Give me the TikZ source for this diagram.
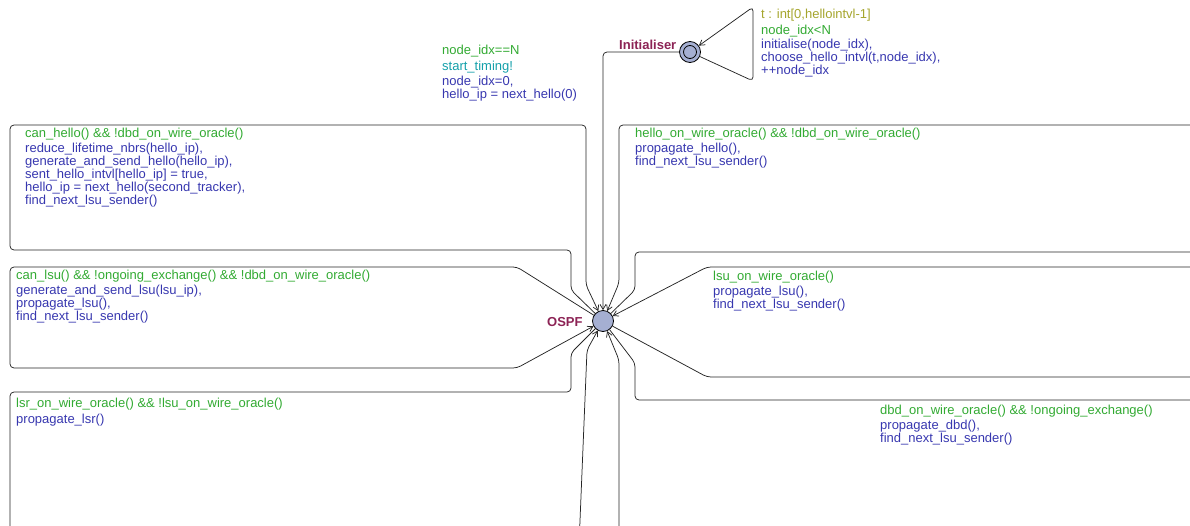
\documentclass[tikz,border=0pt]{standalone}
\usepackage{fontspec}
\setmainfont{Liberation Sans}
\usetikzlibrary{arrows.meta}
\definecolor{guardc}{RGB}{50,170,50}
\definecolor{updc}{RGB}{55,55,175}
\definecolor{syncc}{RGB}{20,160,170}
\definecolor{selc}{RGB}{165,165,45}
\definecolor{locc}{RGB}{140,35,85}
\definecolor{locfill}{RGB}{165,175,210}
\begin{document}
\begin{tikzpicture}[x=1pt,y=-1pt,
  loc/.style={circle,draw=black,line width=0.8pt,fill=locfill,minimum size=21pt,inner sep=0pt},
  lbl/.style={anchor=base west,inner sep=0pt,align=left,font=\fontsize{13}{13}\selectfont},
  guard/.style={lbl,text=guardc},
  upd/.style={lbl,text=updc},
  syn/.style={lbl,text=syncc},
  sel/.style={lbl,text=selc},
  lname/.style={lbl,text=locc,font=\fontsize{13}{13}\selectfont\bfseries},
  edge/.style={draw=black!85,line width=0.75pt,rounded corners=4pt},
  arr/.style={-{Straight Barb[length=5pt,width=6pt]}}
]
\useasboundingbox (0,0) rectangle (1190,525);
\clip (0,0) rectangle (1190,525);

% locations
\node[loc] (ospf) at (603,321) {};
\node[loc] (init) at (690,52) {};
\draw[line width=0.8pt] (init.center) circle[radius=6.5pt];
\node[lname] (ospfname) at (547,326) {OSPF};
\node[lname] (initname) at (619,49) {Initialiser};

% coordinates (nails)
\coordinate (k1) at (603,52);
\coordinate (i1) at (753,81);
\coordinate (i2) at (753,7);
\coordinate (h1) at (571,290);
\coordinate (h2) at (571,250);
\coordinate (h3) at (10,250);
\coordinate (h4) at (10,125);
\coordinate (h5) at (586,125);
\coordinate (h6) at (586,285);
\coordinate (g1) at (635,290);
\coordinate (g2) at (635,252);
\coordinate (g3) at (1205,252);
\coordinate (g4) at (1205,125);
\coordinate (g5) at (619,125);
\coordinate (g6) at (619,283);
\coordinate (l1) at (517,267);
\coordinate (l2) at (10,267);
\coordinate (l3) at (10,368);
\coordinate (l4) at (517,368);
\coordinate (r1) at (707,377);
\coordinate (r2) at (1205,377);
\coordinate (r3) at (1205,267);
\coordinate (r4) at (707,267);
\coordinate (s1) at (571,353);
\coordinate (s2) at (571,392);
\coordinate (s3) at (10,392);
\coordinate (s4) at (10,545);
\coordinate (s5) at (579,545);
\coordinate (s6) at (587,350);
\coordinate (d1) at (635,363);
\coordinate (d2) at (635,400);
\coordinate (d3) at (1205,400);
\coordinate (d4) at (1205,545);
\coordinate (d5) at (619,545);
\coordinate (d6) at (619,360);

% edges
\draw[edge,arr] (init) -- (k1) -- (ospf);
\draw[edge,arr] (init) -- (i1) -- (i2) -- (init);
\draw[edge,arr] (ospf) -- (h1) -- (h2) -- (h3) -- (h4) -- (h5) -- (h6) -- (ospf);
\draw[edge,arr] (ospf) -- (g1) -- (g2) -- (g3) -- (g4) -- (g5) -- (g6) -- (ospf);
\draw[edge,arr] (ospf) -- (l1) -- (l2) -- (l3) -- (l4) -- (ospf);
\draw[edge,arr] (ospf) -- (r1) -- (r2) -- (r3) -- (r4) -- (ospf);
\draw[edge,arr] (ospf) -- (s1) -- (s2) -- (s3) -- (s4) -- (s5) -- (s6) -- (ospf);
\draw[edge,arr] (ospf) -- (d1) -- (d2) -- (d3) -- (d4) -- (d5) -- (d6) -- (ospf);

% labels (multi-line nodes are placed by the baseline of their last line)
% initialiser self loop
\node[sel] (isel) at (761,18) {t : int[0,hellointvl-1]};
\node[guard] (iguard) at (761,34) {node\_idx<N};
\node[upd] (iupd) at (761,74) {initialise(node\_idx),\\choose\_hello\_intvl(t,node\_idx),\\++node\_idx};

% initialiser -> OSPF
\node[guard] (kguard) at (442,54) {node\_idx==N};
\node[syn] (ksync) at (442,70) {start\_timing!};
\node[upd] (kupd) at (442,98) {node\_idx=0,\\hello\_ip = next\_hello(0)};

% can_hello
\node[guard] (hguard) at (25,137) {can\_hello() \&\& !dbd\_on\_wire\_oracle()};
\node[upd] (hupd) at (25,204) {reduce\_lifetime\_nbrs(hello\_ip),\\generate\_and\_send\_hello(hello\_ip),\\sent\_hello\_intvl[hello\_ip] = true,\\hello\_ip = next\_hello(second\_tracker),\\find\_next\_lsu\_sender()};

% hello on wire
\node[guard] (gguard) at (635,137) {hello\_on\_wire\_oracle() \&\& !dbd\_on\_wire\_oracle()};
\node[upd] (gupd) at (635,165) {propagate\_hello(),\\find\_next\_lsu\_sender()};

% can_lsu
\node[guard] (lguard) at (16,279) {can\_lsu() \&\& !ongoing\_exchange() \&\& !dbd\_on\_wire\_oracle()};
\node[upd] (lupd) at (16,320) {generate\_and\_send\_lsu(lsu\_ip),\\propagate\_lsu(),\\find\_next\_lsu\_sender()};

% lsu on wire
\node[guard] (rguard) at (713,280) {lsu\_on\_wire\_oracle()};
\node[upd] (rupd) at (713,308) {propagate\_lsu(),\\find\_next\_lsu\_sender()};

% lsr
\node[guard] (sguard) at (16,407) {lsr\_on\_wire\_oracle() \&\& !lsu\_on\_wire\_oracle()};
\node[upd] (supd) at (16,423) {propagate\_lsr()};

% dbd
\node[guard] (dguard) at (880,414) {dbd\_on\_wire\_oracle() \&\& !ongoing\_exchange()};
\node[upd] (dupd) at (880,442) {propagate\_dbd(),\\find\_next\_lsu\_sender()};
\end{tikzpicture}
\end{document}
